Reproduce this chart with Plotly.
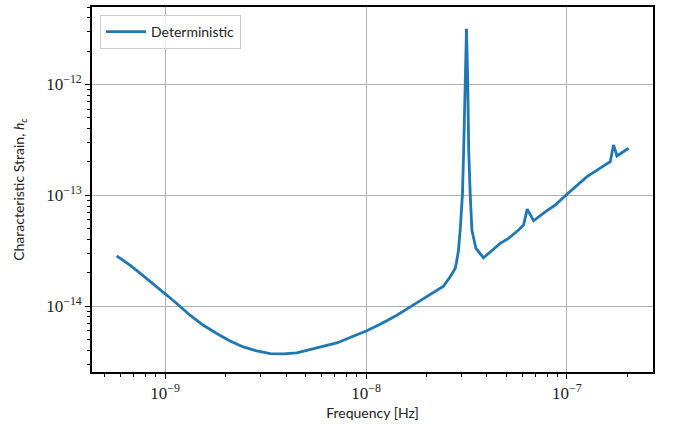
import numpy as np
import plotly.graph_objects as go

# Data
frequency_hz = [
    5.746e-10, 6.69e-10, 7.80e-10, 9.094e-10, 1.00e-9, 1.144e-9, 1.331e-9, 1.551e-9,
    1.808e-9, 2.106e-9, 2.453e-9, 2.861e-9, 3.333e-9, 3.882e-9, 4.524e-9, 5.473e-9,
    7.16e-9, 8.34e-9, 1.0016e-8, 1.176e-8, 1.424e-8, 1.692e-8, 2.009e-8, 2.430e-8,
    2.624e-8, 2.779e-8, 2.833e-8, 2.886e-8, 2.942e-8, 3.020e-8, 3.062e-8, 3.115e-8,
    3.163e-8, 3.207e-8, 3.244e-8, 3.300e-8, 3.365e-8, 3.523e-8, 3.844e-8, 4.655e-8,
    5.119e-8, 5.741e-8, 6.080e-8, 6.343e-8, 6.82e-8, 7.795e-8, 8.743e-8, 1.00e-7,
    1.258e-7, 1.642e-7, 1.706e-7, 1.774e-7, 2.025e-7,
]
strain_hc = [
    2.849e-14, 2.347e-14, 1.879e-14, 1.494e-14, 1.302e-14, 1.058e-14, 8.29e-15, 6.73e-15,
    5.67e-15, 4.86e-15, 4.29e-15, 3.945e-15, 3.737e-15, 3.706e-15, 3.784e-15, 4.11e-15,
    4.66e-15, 5.21e-15, 5.98e-15, 6.88e-15, 8.29e-15, 1.006e-14, 1.213e-14, 1.516e-14,
    1.840e-14, 2.191e-14, 2.603e-14, 3.206e-14, 4.86e-14, 1.022e-13, 2.57e-13, 1.103e-12,
    3.19e-12, 1.103e-12, 2.57e-13, 1.022e-13, 4.86e-14, 3.32e-14, 2.732e-14, 3.686e-14,
    4.09e-14, 4.86e-14, 5.40e-14, 7.52e-14, 5.90e-14, 7.11e-14, 8.18e-14, 1.022e-13,
    1.474e-13, 2.013e-13, 2.851e-13, 2.268e-13, 2.662e-13,
]
series_name = "Deterministic"

x_major = [1e-9, 1e-8, 1e-7]
x_major_text = ["10<sup>−9</sup>", "10<sup>−8</sup>", "10<sup>−7</sup>"]
y_major = [1e-14, 1e-13, 1e-12]
y_major_text = ["10<sup>−14</sup>", "10<sup>−13</sup>", "10<sup>−12</sup>"]

x_minor = [m * 10.0 ** e for e in (-10, -9, -8, -7) for m in range(2, 10)]
y_minor = [m * 10.0 ** e for e in (-15, -14, -13, -12) for m in range(2, 10)]

blue = "#1f77b4"
tick_font = dict(family="Liberation Serif, DejaVu Serif, serif", size=17, color="#222222")
label_font = dict(family="Lato, DejaVu Sans, sans-serif", size=14, color="#222222")

fig = go.Figure()
fig.add_trace(go.Scatter(
    x=frequency_hz, y=strain_hc, mode="lines", name=series_name,
    line=dict(color=blue, width=2.8),
))

axis_common = dict(
    type="log", showline=True, linecolor="black", linewidth=1.6, mirror=True,
    ticks="outside", ticklen=5, tickwidth=1.2, tickcolor="black",
    showgrid=True, gridcolor="#b0b0b0", gridwidth=1.4, zeroline=False,
    tickfont=tick_font, automargin=False,
)

fig.update_layout(
    width=673, height=426,
    margin=dict(l=92, r=20, t=7, b=54),
    plot_bgcolor="white", paper_bgcolor="white",
    showlegend=True,
    legend=dict(
        x=0.0143, y=0.978, xanchor="left", yanchor="top",
        bgcolor="rgba(255,255,255,0.8)", bordercolor="#cccccc", borderwidth=1,
        font=dict(family="Lato, DejaVu Sans, sans-serif", size=14, color="#222222"),
        itemwidth=40, tracegroupgap=0,
    ),
    xaxis=dict(
        axis_common,
        range=[-9.3635, -6.5718],
        tickvals=x_major, ticktext=x_major_text,
        minor=dict(tickvals=x_minor, ticks="outside", ticklen=3, tickwidth=1, tickcolor="black", showgrid=False),
        title=dict(text="Frequency [Hz]", font=label_font, standoff=6),
    ),
    yaxis=dict(
        axis_common,
        range=[-14.5938, -11.3005],
        tickvals=y_major, ticktext=y_major_text,
        minor=dict(tickvals=y_minor, ticks="outside", ticklen=3, tickwidth=1, tickcolor="black", showgrid=False),
        title=dict(text="Characteristic Strain, <i>h</i><sub><i>c</i></sub>", font=label_font, standoff=18),
    ),
)

fig.write_html(
    "out.html",
    config={"displayModeBar": False},
    post_script="document.body.style.margin='0';document.body.style.padding='0';",
)
